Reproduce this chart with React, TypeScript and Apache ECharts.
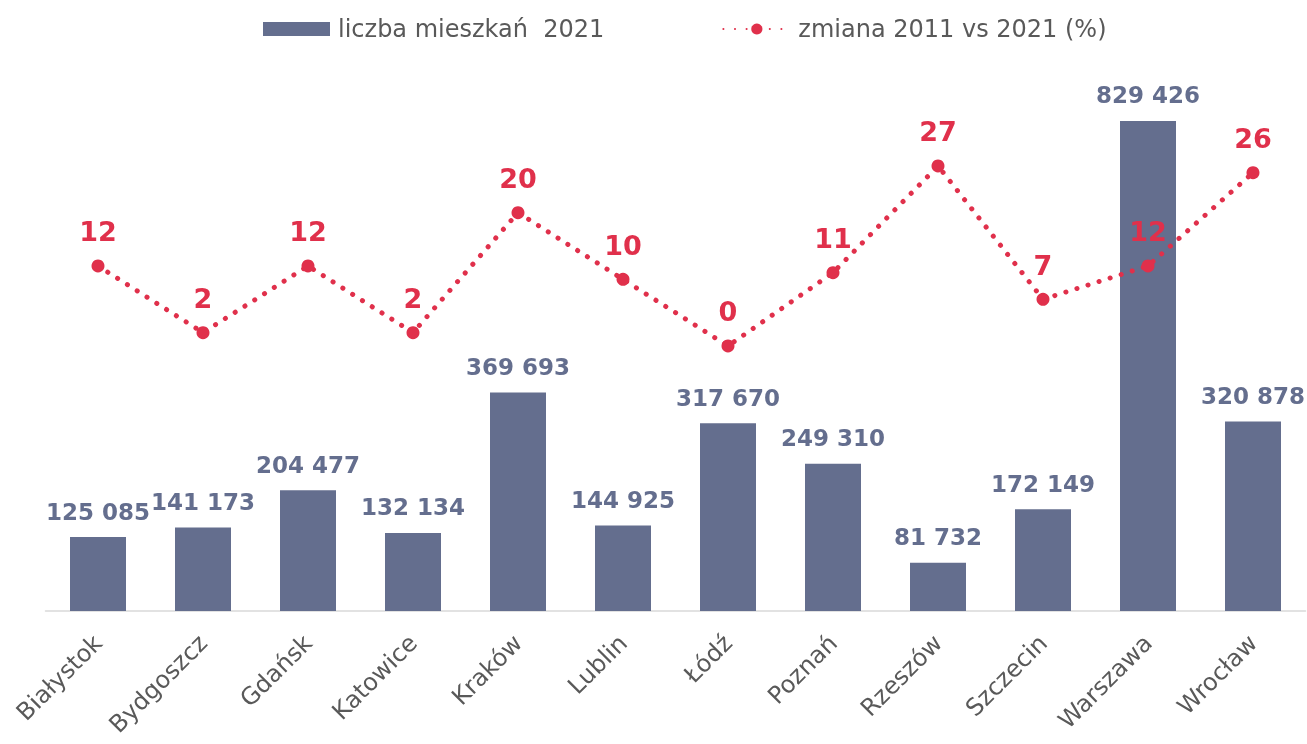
import React, { useEffect, useRef } from "react";
import * as echarts from "echarts";

const categories = ["Białystok", "Bydgoszcz", "Gdańsk", "Katowice", "Kraków", "Lublin", "Łódź", "Poznań", "Rzeszów", "Szczecin", "Warszawa", "Wrocław"];
const residents2021 = [125085, 141173, 204477, 132134, 369693, 144925, 317670, 249310, 81732, 172149, 829426, 320878];
const change2011vs2021 = [12, 2, 12, 2, 20, 10, 0, 11, 27, 7, 12, 26];

const BAR = "#646E8E";
const RED = "#E0304B";
const FONT = "'DejaVu Sans', sans-serif";

const fmt = (v: number) => String(v).replace(/\B(?=(\d{3})+(?!\d))/g, " ");

export default function App() {
  const ref = useRef<HTMLDivElement>(null);
  useEffect(() => {
    const chart = echarts.init(ref.current!, null, { renderer: "svg" });
    chart.setOption({
      animation: false,
      textStyle: { fontFamily: FONT },
      legend: {
        top: 12,
        left: 258,
        itemGap: 118,
        itemWidth: 67,
        itemHeight: 14,
        textStyle: { fontSize: 24, color: "#595959", fontFamily: FONT, padding: [0, 0, 0, 3] },
        data: [
          { name: "liczba mieszkań  2021", icon: "rect" },
          { name: "zmiana 2011 vs 2021 (%)" },
        ],
      },
      grid: { left: 45.5, right: 1.5, top: 79.3, bottom: 133, containLabel: false },
      xAxis: {
        type: "category",
        data: categories,
        axisLine: { lineStyle: { color: "#D9D9D9", width: 1.5 } },
        axisTick: { show: false },
        axisLabel: { rotate: 45, fontSize: 24, color: "#595959", margin: 28, fontFamily: FONT, interval: 0 },
      },
      yAxis: [
        { type: "value", min: 0, max: 900000, show: false, splitLine: { show: false } },
        { type: "value", min: -39.75, max: 40, show: false, splitLine: { show: false } },
      ],
      series: [
        {
          name: "liczba mieszkań  2021",
          type: "bar",
          data: residents2021,
          barWidth: 56,
          itemStyle: { color: BAR },
          label: {
            show: true,
            position: "top",
            distance: 14,
            formatter: (p: any) => fmt(p.value),
            fontSize: 23,
            fontWeight: "bold",
            color: BAR,
            fontFamily: FONT,
          },
          z: 1,
        },
        {
          name: "zmiana 2011 vs 2021 (%)",
          type: "line",
          yAxisIndex: 1,
          data: change2011vs2021,
          symbol: "circle",
          symbolSize: 13,
          itemStyle: { color: RED },
          lineStyle: { color: RED, width: 5, type: [0.1, 11.5], cap: "round" },
          label: {
            show: true,
            position: "top",
            distance: 14,
            fontSize: 27,
            fontWeight: "bold",
            color: RED,
            fontFamily: FONT,
          },
          z: 3,
        },
      ],
    });
    return () => chart.dispose();
  }, []);
  return <div ref={ref} style={{ position: "fixed", left: 0, top: 0, width: 1307, height: 744 }} />;
}
